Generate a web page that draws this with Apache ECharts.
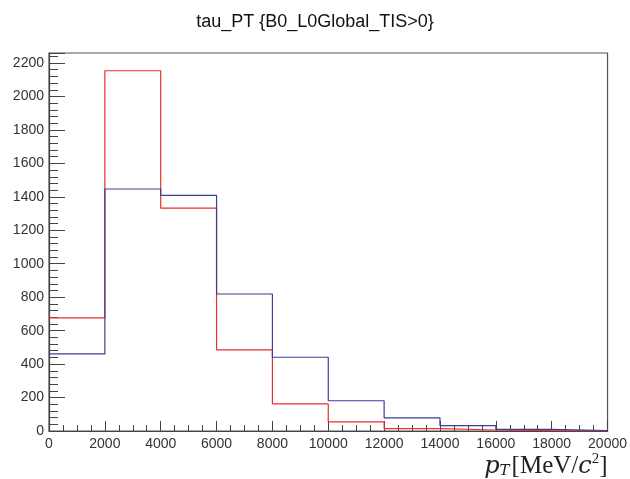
<!DOCTYPE html>
<html>
<head>
<meta charset="utf-8">
<script src="https://cdn.jsdelivr.net/npm/echarts@6/dist/echarts.min.js"></script>
<style>
html,body{margin:0;padding:0;background:#fff;}
#chart{width:630px;height:479px;}
</style>
</head>
<body>
<div id="chart"></div>
<script>
var titleText = 'tau_PT {B0_L0Global_TIS>0}';
var binEdges = [0, 2000, 4000, 6000, 8000, 10000, 12000, 14000, 16000, 18000, 20000];
var redCounts = [676, 2154, 1332, 485, 162, 54, 14, 6, 2, 1];
var blueCounts = [461, 1447, 1409, 819, 441, 181, 79, 32, 10, 3];

function toSteps(counts) {
  var pts = [];
  for (var i = 0; i < counts.length; i++) pts.push([binEdges[i], counts[i]]);
  pts.push([binEdges[binEdges.length - 1], counts[counts.length - 1]]);
  return pts;
}

var chart = echarts.init(document.getElementById('chart'), null, {renderer: 'canvas'});
var labelFont = 'Liberation Sans, Helvetica, Arial, sans-serif';
chart.setOption({
  animation: false,
  backgroundColor: '#ffffff',
  title: {
    text: titleText,
    left: 'center',
    top: 8,
    textStyle: {fontFamily: labelFont, fontSize: 18, fontWeight: 'normal', color: '#111'}
  },
  grid: {left: 49, right: 20, top: 53, bottom: 47.5, show: true, borderColor: '#555', borderWidth: 1.2, backgroundColor: 'transparent'},
  xAxis: {
    type: 'value', min: 0, max: 20000, interval: 2000,
    axisLine: {show: true, lineStyle: {color: '#444', width: 1.2}},
    axisTick: {show: true, inside: true, length: 10, lineStyle: {color: '#444'}},
    minorTick: {show: true, splitNumber: 4, length: 6, lineStyle: {color: '#444'}},
    splitLine: {show: false},
    axisLabel: {color: '#333', fontFamily: labelFont, fontSize: 14, margin: 6,
      formatter: function (v) { return String(v); }},
    name: '{p|p}{sub|T}{n|[MeV/}{c|c}{sup|2}{n|]}',
    nameLocation: 'end',
    nameGap: 0,
    nameTextStyle: {
      align: 'right', verticalAlign: 'top', padding: [21, 0, 0, 0],
      rich: {
        p: {fontFamily: 'DejaVu Serif, Liberation Serif, serif', fontStyle: 'italic', fontSize: 24, color: '#222', verticalAlign: 'bottom', lineHeight: 27},
        sub: {fontFamily: 'DejaVu Serif, Liberation Serif, serif', fontStyle: 'italic', fontSize: 15, color: '#222', verticalAlign: 'bottom', lineHeight: 27, padding: [0, 2, 0, 0]},
        n: {fontFamily: 'Liberation Serif, DejaVu Serif, serif', fontSize: 25, color: '#222', verticalAlign: 'bottom', lineHeight: 27},
        c: {fontFamily: 'DejaVu Serif, Liberation Serif, serif', fontStyle: 'italic', fontSize: 24, color: '#222', verticalAlign: 'bottom', lineHeight: 27},
        sup: {fontFamily: 'Liberation Serif, DejaVu Serif, serif', fontSize: 15, color: '#222', verticalAlign: 'top', lineHeight: 27}
      }
    }
  },
  yAxis: {
    type: 'value', min: 0, max: 2260, interval: 200,
    axisLine: {show: true, lineStyle: {color: '#444', width: 1.2}},
    axisTick: {show: true, inside: true, length: 16, lineStyle: {color: '#444'}},
    minorTick: {show: true, splitNumber: 5, length: 9, lineStyle: {color: '#444'}},
    splitLine: {show: false},
    axisLabel: {
      color: '#333', fontFamily: labelFont, fontSize: 14, margin: 5,
      formatter: function (v) { return v % 200 === 0 ? String(v) : ''; }
    }
  },
  series: [
    {
      name: 'red', type: 'line', step: 'end', data: toSteps(redCounts),
      symbol: 'none', lineStyle: {color: '#e8302c', width: 1.2}, z: 3
    },
    {
      name: 'blue', type: 'line', step: 'end', data: toSteps(blueCounts),
      symbol: 'none', lineStyle: {color: '#3d3d96', width: 1.2}, z: 4
    }
  ]
});
</script>
</body>
</html>
